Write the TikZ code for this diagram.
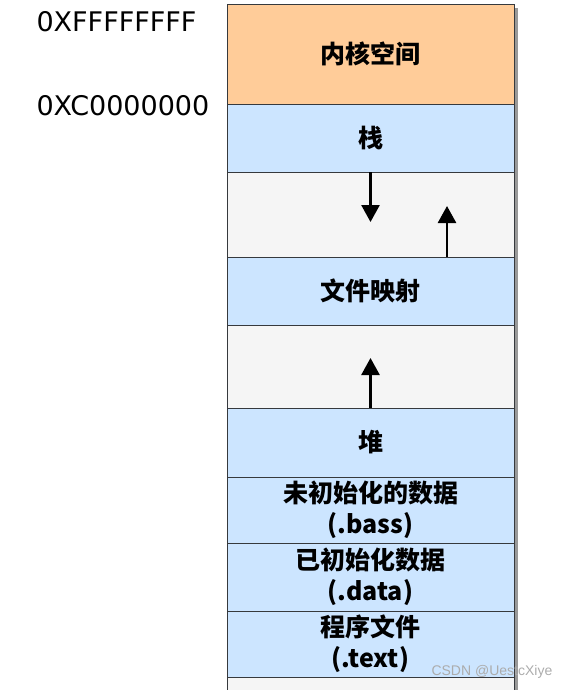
\documentclass[tikz,border=0pt]{standalone}
\usepackage{fontspec}
\usetikzlibrary{arrows.meta}
\newfontfamily\cjk{Noto Sans CJK SC}
\newfontfamily\addrfont{DejaVu Sans}
\newfontfamily\markfont{Liberation Sans}
\definecolor{kernelfill}{HTML}{FFCC99}
\definecolor{segfill}{HTML}{CCE5FF}
\definecolor{gapfill}{HTML}{F5F5F5}
\definecolor{edgecol}{HTML}{36393D}
\tikzset{
  seg/.style={draw=edgecol, line width=0.9pt, minimum width=287pt, inner sep=0pt,
    align=center, font=\cjk\bfseries\fontsize{25}{31}\selectfont},
  addr/.style={anchor=west, font=\addrfont\fontsize{27}{27}\selectfont},
  growarrow/.style={line width=2.6pt, -{Triangle[length=17pt,width=18pt]}}
}

\begin{document}
\begin{tikzpicture}[x=1pt,y=-1pt]
      \useasboundingbox (0,0) rectangle (565,690);
      \fill[black!40] (231,8) rectangle (518,690);
      \fill[gapfill] (227,676) rectangle (514,690);
      \draw[edgecol, line width=0.9pt] (227,690) -- (227,676) (514,676) -- (514,690);
      \foreach \n/\y/\h/\col/\txt in {
	kernel/54/100/kernelfill/内核空间,
	stack/138/68/segfill/栈,
	gapa/214.5/85/gapfill/{},
	mmap/291/68/segfill/文件映射,
	gapb/366.5/83/gapfill/{},
	heap/442.5/69/segfill/堆,
	bss/510/66/segfill/{未初始化的数据\\(.bass)},
	data/577/68/segfill/{已初始化数据\\(.data)},
	textseg/644/66/segfill/{程序文件\\(.text)}} {
	\node[seg, fill=\col, minimum height=\h pt] (\n) at (370.5,\y) {\txt};
      };
      \node[addr] (ffff) at (33,22) {0XFFFFFFFF};
      \node[addr] (c000) at (33,106) {0XC0000000};
      \coordinate (stackgrow) at (370.5,222);
      \coordinate (mmapgrow) at (447,206);
      \coordinate (heapgrow) at (370.5,358);
      \draw[growarrow] (stack.south) -- (stackgrow);
      \draw[growarrow] (mmap.north -| mmapgrow) -- (mmapgrow);
      \draw[growarrow] (heap.north) -- (heapgrow);
      \node[anchor=west, text=gray!65, font=\markfont\fontsize{14}{14}\selectfont] (mark) at (428,672) {CSDN @UestcXiye};
    \end{tikzpicture}
\end{document}
